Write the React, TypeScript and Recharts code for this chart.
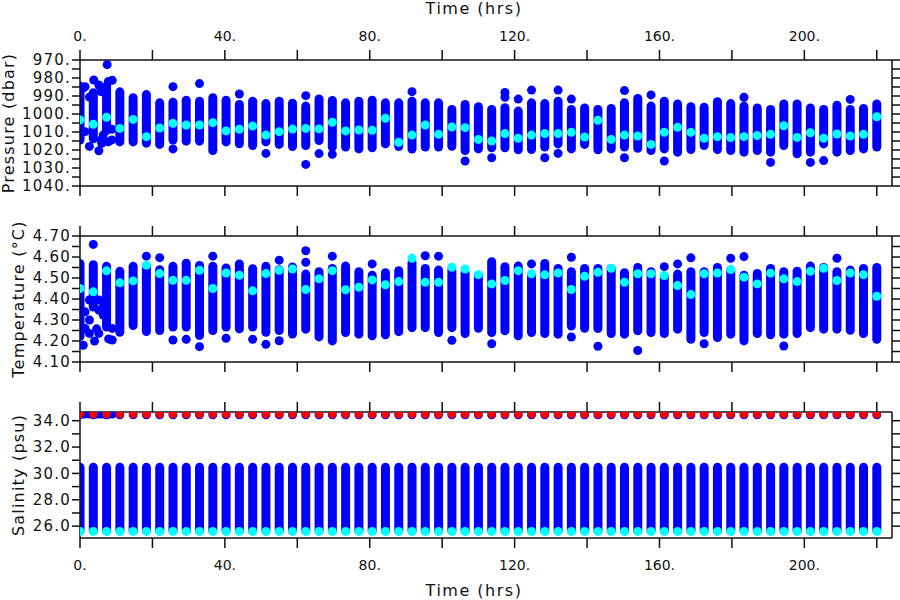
import React from 'react';
import { ComposedChart, Bar, Scatter, XAxis, YAxis } from 'recharts';

// Profile times (hrs)
const hours = [0, 3.67, 7.33, 11, 14.67, 18.33, 22, 25.67, 29.33, 33, 36.67, 40.33, 44, 47.67, 51.33, 55, 58.67, 62.33, 66, 69.67, 73.33, 77, 80.67, 84.33, 88, 91.67, 95.33, 99, 102.67, 106.33, 110, 113.67, 117.33, 121, 124.67, 128.33, 132, 135.67, 139.33, 143, 146.67, 150.33, 154, 157.67, 161.33, 165, 168.67, 172.33, 176, 179.67, 183.33, 187, 190.67, 194.33, 198, 201.67, 205.33, 209, 212.67, 216.33, 220];

// Pressure (dbar): shallowest / deepest sample of each profile, and mean
const presTop = [982, 985.7, 982, 985.2, 988.5, 986.7, 991.3, 991, 989.8, 990.4, 988.5, 989.8, 992.2, 990.4, 991.7, 990.4, 991.5, 993.1, 989.1, 990, 991.3, 990.4, 989.8, 991.3, 991.3, 990.4, 991.3, 991.3, 995, 992.2, 993.5, 995, 994, 995.9, 991.3, 991.7, 990.4, 995, 994.1, 995, 994.4, 991.3, 988.9, 993.1, 990.4, 991.9, 993.5, 993.7, 990.7, 991.7, 993.1, 994.1, 995, 991.9, 991.9, 994.1, 995, 992.6, 995, 994.4, 991.9];
const presBottom = [1017, 1016.3, 1011.7, 1018, 1018, 1018.7, 1019.4, 1017, 1017.6, 1017.6, 1022.8, 1018, 1019, 1020, 1018, 1019.4, 1020.6, 1020, 1017.2, 1020.9, 1020.9, 1021.9, 1021.3, 1019.1, 1020.6, 1022, 1020.9, 1020.9, 1020.4, 1022.8, 1021.9, 1021.3, 1021.3, 1022.4, 1022.2, 1020.9, 1019.1, 1021.9, 1019.4, 1022.4, 1021.9, 1020.9, 1021.5, 1022.8, 1021.9, 1023.7, 1022.2, 1020, 1022.2, 1022.8, 1023.7, 1022.8, 1023.7, 1020, 1024.6, 1023.7, 1019.1, 1023.7, 1022.8, 1021.9, 1020.9];
const presMean = [1003.3, 1005.7, 1001.8, 1008, 1003, 1012.6, 1007.8, 1005.2, 1006.1, 1006.1, 1004.8, 1009.4, 1008.5, 1006.7, 1011.7, 1009.8, 1008.4, 1008, 1008.3, 1004.6, 1009.4, 1008.9, 1009, 1002.4, 1015.7, 1011.7, 1006.1, 1011.3, 1007.2, 1007.6, 1014.1, 1015, 1010.9, 1013.5, 1011.7, 1010.9, 1010.9, 1010.2, 1012.8, 1003.5, 1014.1, 1011.7, 1012.2, 1016.9, 1010.2, 1007.4, 1010.2, 1013.5, 1012.6, 1013.1, 1012.6, 1012, 1011.3, 1006.5, 1013, 1010.4, 1013.5, 1011.1, 1012.2, 1011.3, 1001.5];
// isolated pressure samples
const presOutT = [1.0, 1.4, 1.4, 2.6, 2.6, 3.8, 5.2, 5.2, 5.8, 5.8, 6.0, 6.4, 7.5, 7.8, 7.8, 8.8, 8.8, 8.9, 25.67, 25.67, 33, 44, 51.33, 62.33, 62.33, 66, 69.67, 91.67, 106.33, 113.67, 117.33, 117.33, 121, 124.67, 128.33, 132, 132, 135.67, 150.33, 150.33, 157.67, 161.33, 183.33, 190.67, 201.67, 205.33, 212.67];
const presOutV = [985.4, 984.8, 1009.8, 990.6, 1018, 981.1, 983.9, 1020.4, 987.6, 1014.4, 1016.3, 1011.7, 972.6, 982, 1015.4, 1014.4, 1008.5, 981.3, 984.8, 1019.4, 983.1, 988.9, 1021.9, 989.8, 1028, 1022, 1022.4, 987.6, 1026.1, 1024.3, 988, 990.7, 991.7, 986.7, 1024.3, 986.7, 1021.9, 991.7, 987, 1024.3, 989.4, 1026.1, 990.7, 1026.9, 1026.9, 1025.9, 991.9];

// Temperature (°C)
const tempTop = [4.59, 4.585, 4.577, 4.553, 4.577, 4.577, 4.561, 4.577, 4.592, 4.581, 4.577, 4.569, 4.588, 4.566, 4.577, 4.561, 4.574, 4.54, 4.551, 4.567, 4.578, 4.551, 4.535, 4.547, 4.556, 4.594, 4.567, 4.559, 4.559, 4.547, 4.535, 4.599, 4.575, 4.578, 4.535, 4.591, 4.567, 4.551, 4.567, 4.567, 4.567, 4.547, 4.572, 4.551, 4.527, 4.54, 4.551, 4.551, 4.572, 4.559, 4.535, 4.543, 4.567, 4.551, 4.554, 4.578, 4.572, 4.551, 4.559, 4.567, 4.572];
const tempBottom = [4.2, 4.34, 4.245, 4.22, 4.252, 4.224, 4.228, 4.245, 4.245, 4.205, 4.228, 4.245, 4.236, 4.245, 4.22, 4.228, 4.212, 4.235, 4.198, 4.179, 4.219, 4.211, 4.203, 4.208, 4.223, 4.242, 4.242, 4.219, 4.242, 4.214, 4.239, 4.219, 4.227, 4.203, 4.219, 4.214, 4.211, 4.25, 4.239, 4.238, 4.214, 4.211, 4.227, 4.219, 4.214, 4.235, 4.187, 4.219, 4.195, 4.211, 4.179, 4.214, 4.208, 4.211, 4.214, 4.242, 4.235, 4.235, 4.23, 4.214, 4.187];
const tempMean = [4.45, 4.434, 4.534, 4.477, 4.486, 4.561, 4.521, 4.489, 4.489, 4.537, 4.45, 4.524, 4.513, 4.439, 4.521, 4.537, 4.543, 4.445, 4.496, 4.535, 4.444, 4.456, 4.491, 4.468, 4.483, 4.594, 4.48, 4.48, 4.551, 4.543, 4.516, 4.472, 4.488, 4.535, 4.52, 4.515, 4.524, 4.445, 4.508, 4.527, 4.546, 4.48, 4.52, 4.52, 4.512, 4.464, 4.421, 4.52, 4.524, 4.54, 4.504, 4.472, 4.523, 4.496, 4.483, 4.532, 4.546, 4.488, 4.524, 4.516, 4.413];
const tempOutT = [0.9, 1.4, 1.4, 2.6, 2.6, 2.6, 3.67, 4.0, 4.6, 5.2, 5.2, 5.2, 6.4, 6.4, 7.9, 8.9, 8.9, 18.33, 22, 25.67, 29.33, 33, 36.67, 40.33, 47.67, 51.33, 55, 55, 62.33, 62.33, 69.67, 80.67, 95.33, 99, 102.67, 113.67, 124.67, 135.67, 135.67, 143, 154, 161.33, 165, 168.67, 172.33, 179.67, 183.33, 194.33, 209];
const tempOutV = [4.18, 4.339, 4.26, 4.395, 4.3, 4.236, 4.66, 4.2, 4.258, 4.395, 4.347, 4.236, 4.363, 4.324, 4.21, 4.26, 4.205, 4.604, 4.597, 4.205, 4.208, 4.173, 4.604, 4.213, 4.208, 4.184, 4.585, 4.201, 4.63, 4.575, 4.604, 4.567, 4.606, 4.604, 4.203, 4.187, 4.567, 4.599, 4.219, 4.175, 4.155, 4.554, 4.567, 4.596, 4.187, 4.594, 4.602, 4.176, 4.594];

// Salinity (psu)
const salTop = [30.8, 30.8, 30.8, 30.8, 30.8, 30.8, 30.8, 30.8, 30.8, 30.8, 30.8, 30.8, 30.8, 30.8, 30.8, 30.8, 30.8, 30.8, 30.8, 30.8, 30.8, 30.8, 30.8, 30.8, 30.8, 30.8, 30.8, 30.8, 30.8, 30.8, 30.8, 30.8, 30.8, 30.8, 30.8, 30.8, 30.8, 30.8, 30.8, 30.8, 30.8, 30.8, 30.8, 30.8, 30.8, 30.8, 30.8, 30.8, 30.8, 30.8, 30.8, 30.8, 30.8, 30.8, 30.8, 30.8, 30.8, 30.8, 30.8, 30.8, 30.8];
const salBottom = [25.3, 25.3, 25.3, 25.3, 25.3, 25.3, 25.3, 25.3, 25.3, 25.3, 25.3, 25.3, 25.3, 25.3, 25.3, 25.3, 25.3, 25.3, 25.3, 25.3, 25.3, 25.3, 25.3, 25.3, 25.3, 25.3, 25.3, 25.3, 25.3, 25.3, 25.3, 25.3, 25.3, 25.3, 25.3, 25.3, 25.3, 25.3, 25.3, 25.3, 25.3, 25.3, 25.3, 25.3, 25.3, 25.3, 25.3, 25.3, 25.3, 25.3, 25.3, 25.3, 25.3, 25.3, 25.3, 25.3, 25.3, 25.3, 25.3, 25.3, 25.3];
const salMean = [25.6, 25.6, 25.6, 25.6, 25.6, 25.6, 25.6, 25.6, 25.6, 25.6, 25.6, 25.6, 25.6, 25.6, 25.6, 25.6, 25.6, 25.6, 25.6, 25.6, 25.6, 25.6, 25.6, 25.6, 25.6, 25.6, 25.6, 25.6, 25.6, 25.6, 25.6, 25.6, 25.6, 25.6, 25.6, 25.6, 25.6, 25.6, 25.6, 25.6, 25.6, 25.6, 25.6, 25.6, 25.6, 25.6, 25.6, 25.6, 25.6, 25.6, 25.6, 25.6, 25.6, 25.6, 25.6, 25.6, 25.6, 25.6, 25.6, 25.6, 25.6];
const salSurfBlue = [34.45, 34.45, 34.45, 34.45, 34.45, 34.45, 34.45, 34.45, 34.45, 34.45, 34.45, 34.45, 34.45, 34.45, 34.45, 34.45, 34.45, 34.45, 34.45, 34.45, 34.45, 34.45, 34.45, 34.45, 34.45, 34.45, 34.45, 34.45, 34.45, 34.45, 34.45, 34.45, 34.45, 34.45, 34.45, 34.45, 34.45, 34.45, 34.45, 34.45, 34.45, 34.45, 34.45, 34.45, 34.45, 34.45, 34.45, 34.45, 34.45, 34.45, 34.45, 34.45, 34.45, 34.45, 34.45, 34.45, 34.45, 34.45, 34.45, 34.45, 34.45];
const salSurfRed = [34.5, 34.5, 34.5, 34.5, 34.5, 34.5, 34.5, 34.5, 34.5, 34.5, 34.5, 34.5, 34.5, 34.5, 34.5, 34.5, 34.5, 34.5, 34.5, 34.5, 34.5, 34.5, 34.5, 34.5, 34.5, 34.5, 34.5, 34.5, 34.5, 34.5, 34.5, 34.5, 34.5, 34.5, 34.5, 34.5, 34.5, 34.5, 34.5, 34.5, 34.5, 34.5, 34.5, 34.5, 34.5, 34.5, 34.5, 34.5, 34.5, 34.5, 34.5, 34.5, 34.5, 34.5, 34.5, 34.5, 34.5, 34.5, 34.5, 34.5, 34.5];
const salOutT = [1.2, 2.4, 4.6, 5.5, 6.5, 8.0, 8.9];
const salOutV = [34.5, 34.5, 34.5, 34.5, 34.5, 34.5, 34.5];

// Axis ticks
const timeTicks = [0, 20, 40, 60, 80, 100, 120, 140, 160, 180, 200, 220];
const presTicks = [970, 975, 980, 985, 990, 995, 1000, 1005, 1010, 1015, 1020, 1025, 1030, 1035, 1040];
const tempTicks = [4.1, 4.15, 4.2, 4.25, 4.3, 4.35, 4.4, 4.45, 4.5, 4.55, 4.6, 4.65, 4.7];
const salTicks = [26, 27, 28, 29, 30, 31, 32, 33, 34];

const presRows = hours.map((t, i) => ({ t, range: [presTop[i], presBottom[i]], mean: presMean[i] }));
const presOut = presOutT.map((t, i) => ({ t, v: presOutV[i] }));
const tempRows = hours.map((t, i) => ({ t, range: [tempBottom[i], tempTop[i]], mean: tempMean[i] }));
const tempOut = tempOutT.map((t, i) => ({ t, v: tempOutV[i] }));
const salRows = hours.map((t, i) => ({ t, range: [salBottom[i], salTop[i]], mean: salMean[i], sb: salSurfBlue[i], sr: salSurfRed[i] }));
const salOut = salOutT.map((t, i) => ({ t, v: salOutV[i] }));

const FONT = '"DejaVu Sans", sans-serif';
const INK = '#111';
const BLUE = '#0000ff';
const CYAN = '#00ffff';
const RED = '#ff0000';
const X_DOMAIN: [number, number] = [0, 224.2];
const COL_W = 9;

const dot = (color: string, r: number) => (p: any) =>
  p.cx == null || p.cy == null ? <g /> : <circle cx={p.cx} cy={p.cy} r={r} fill={color} />;

// a profile column: all samples overlap into a rounded bar
const column = (p: any) => {
  if (p.x == null || p.y == null) return <g />;
  const cx = p.x + (p.width || 0) / 2;
  const h = p.height || 0;
  const y0 = Math.min(p.y, p.y + h);
  const hh = Math.max(Math.abs(h), COL_W);
  return <rect x={cx - COL_W / 2} y={y0} width={COL_W} height={hh} rx={COL_W / 2} ry={COL_W / 2} fill={BLUE} />;
};

const lineStyle = { stroke: INK, strokeWidth: 1.5 };
const xTickStyle = { fontSize: 14, fill: INK, fontFamily: FONT };
const yTickStyle = { fontSize: 15, fill: INK, fontFamily: FONT, letterSpacing: 1.2 };
const blank = () => '';
const timeFmt = (v: number) => (v % 40 === 0 ? `${v}.` : '');

function xAxes(topH: number, bottomH: number, topLabels: boolean, bottomLabels: boolean) {
  return [
    <XAxis
      key="xt"
      xAxisId="top"
      orientation="top"
      type="number"
      dataKey="t"
      domain={X_DOMAIN}
      allowDataOverflow
      ticks={timeTicks}
      interval={0}
      height={topH}
      tickSize={10}
      tickMargin={9}
      tick={xTickStyle}
      tickFormatter={topLabels ? timeFmt : blank}
      axisLine={lineStyle}
      tickLine={lineStyle}
      label={topLabels ? { value: 'Time (hrs)', position: 'insideTop', offset: 3, dx: -12, fontSize: 16, fill: INK, fontFamily: FONT, letterSpacing: 1.5 } : undefined}
    />,
    <XAxis
      key="xb"
      xAxisId="bottom"
      orientation="bottom"
      type="number"
      dataKey="t"
      domain={X_DOMAIN}
      allowDataOverflow
      ticks={timeTicks}
      interval={0}
      height={bottomH}
      tickSize={10}
      tickMargin={12}
      tick={xTickStyle}
      tickFormatter={bottomLabels ? timeFmt : blank}
      axisLine={lineStyle}
      tickLine={lineStyle}
      label={bottomLabels ? { value: 'Time (hrs)', position: 'insideBottom', offset: 4, dx: -12, fontSize: 16, fill: INK, fontFamily: FONT, letterSpacing: 1.5 } : undefined}
    />,
  ];
}

function yAxes(domain: [number, number], ticks: number[], fmt: (v: number) => string, reversed: boolean, label: string, dx: number) {
  return [
    <YAxis
      key="yl"
      yAxisId="left"
      type="number"
      domain={domain}
      allowDataOverflow
      reversed={reversed}
      ticks={ticks}
      interval={0}
      width={80}
      tickSize={8}
      tickMargin={1}
      tick={yTickStyle}
      tickFormatter={fmt}
      axisLine={lineStyle}
      tickLine={lineStyle}
      label={{ value: label, angle: -90, position: 'center', dx, fontSize: 16, fill: INK, fontFamily: FONT, letterSpacing: 1.2 }}
    />,
    <YAxis
      key="yr"
      yAxisId="right"
      orientation="right"
      type="number"
      domain={domain}
      allowDataOverflow
      reversed={reversed}
      ticks={ticks}
      interval={0}
      width={8}
      tickSize={8}
      tickFormatter={blank}
      axisLine={lineStyle}
      tickLine={lineStyle}
    />,
  ];
}

const presFmt = (v: number) => (v % 10 === 0 ? `${v}.` : '');
const tempFmt = (v: number) => {
  const k = Math.round(v * 100);
  return k % 10 === 0 ? v.toFixed(2) : '';
};
const salFmt = (v: number) => (v % 2 === 0 ? v.toFixed(1) : '');

const margin = { top: 0, right: 0, bottom: 0, left: 0 };

export default function App() {
  return (
    <div style={{ position: 'absolute', left: 0, top: 0, width: 900, height: 600, background: '#fff' }}>
      <div style={{ position: 'absolute', left: 0, top: 0 }}>
        <ComposedChart width={900} height={206} data={presRows} margin={margin}>
          {xAxes(60, 20, true, false)}
          {yAxes([970, 1040], presTicks, presFmt, true, 'Pressure (dbar)', -32)}
          <Bar xAxisId="bottom" yAxisId="left" dataKey="range" fill={BLUE} shape={column} isAnimationActive={false} />
          <Scatter xAxisId="bottom" yAxisId="left" data={presOut} dataKey="v" shape={dot(BLUE, 4.5)} isAnimationActive={false} />
          <Scatter xAxisId="bottom" yAxisId="left" data={presRows} dataKey="mean" shape={dot(CYAN, 4.5)} isAnimationActive={false} />
        </ComposedChart>
      </div>
      <div style={{ position: 'absolute', left: 0, top: 216 }}>
        <ComposedChart width={900} height={166} data={tempRows} margin={margin}>
          {xAxes(20, 20, false, false)}
          {yAxes([4.1, 4.7], tempTicks, tempFmt, false, 'Temperature (°C)', -22)}
          <Bar xAxisId="bottom" yAxisId="left" dataKey="range" fill={BLUE} shape={column} isAnimationActive={false} />
          <Scatter xAxisId="bottom" yAxisId="left" data={tempOut} dataKey="v" shape={dot(BLUE, 4.5)} isAnimationActive={false} />
          <Scatter xAxisId="bottom" yAxisId="left" data={tempRows} dataKey="mean" shape={dot(CYAN, 4.5)} isAnimationActive={false} />
        </ComposedChart>
      </div>
      <div style={{ position: 'absolute', left: 0, top: 392 }}>
        <ComposedChart width={900} height={208} data={salRows} margin={margin}>
          {xAxes(20, 62, false, true)}
          {yAxes([25.1, 34.66], salTicks, salFmt, false, 'Salinity (psu)', -22)}
          <Bar xAxisId="bottom" yAxisId="left" dataKey="range" fill={BLUE} shape={column} isAnimationActive={false} />
          <Scatter xAxisId="bottom" yAxisId="left" data={salRows} dataKey="sb" shape={dot(BLUE, 4.5)} isAnimationActive={false} />
          <Scatter xAxisId="bottom" yAxisId="left" data={salOut} dataKey="v" shape={dot(BLUE, 4.5)} isAnimationActive={false} />
          <Scatter xAxisId="bottom" yAxisId="left" data={salRows} dataKey="sr" shape={dot(RED, 4.2)} isAnimationActive={false} />
          <Scatter xAxisId="bottom" yAxisId="left" data={salRows} dataKey="mean" shape={dot(CYAN, 4.5)} isAnimationActive={false} />
        </ComposedChart>
      </div>
    </div>
  );
}
